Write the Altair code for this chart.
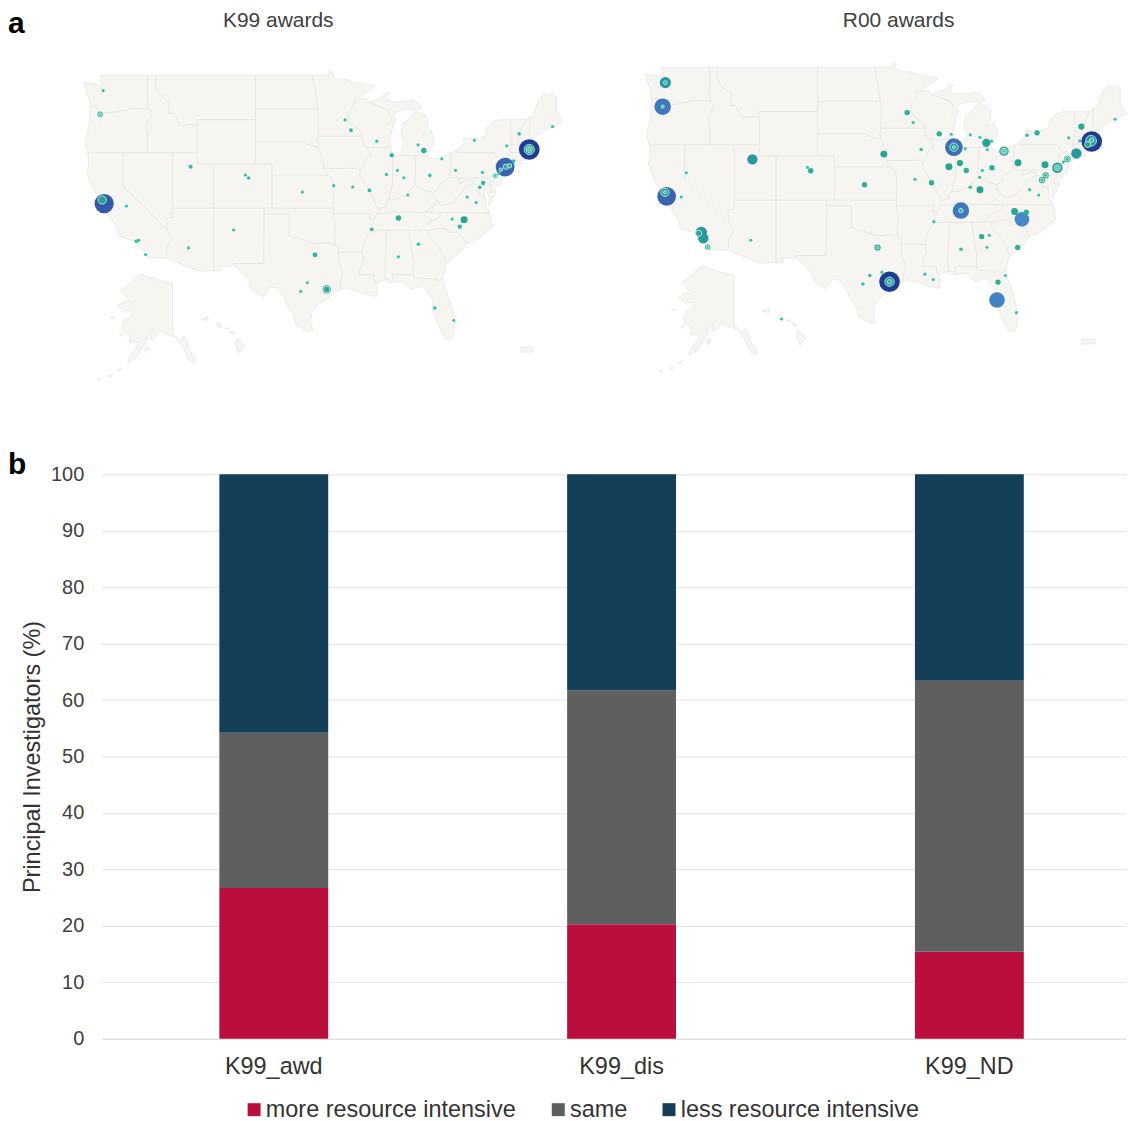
import altair as alt
import pandas as pd

FONT = "Liberation Sans"
# ---------- bars ----------
GROUPS = ["K99_awd", "K99_dis", "K99_ND"]
EFFORT = ["more resource intensive", "same", "less resource intensive"]
MORE = [26.7, 20.3, 15.4]
SAME = [27.5, 41.4, 48.0]
LESS = [45.8, 38.3, 36.6]
BAR_COLORS = ["#BA0F3C", "#5F5F5F", "#143F59"]

# ---------- geography (lon, lat) ----------
US_OUTLINE = [(-124.7,48.38),(-123.1,48.15),(-122.75,48.15),(-122.6,47.3),(-122.35,47.6),(-122.5,48.3),(-122.75,49.0),(-95.15,49.0),(-95.15,49.38),(-94.8,49.33),(-94.6,48.72),(-93.0,48.6),(-92.0,48.3),(-90.8,48.2),(-89.6,48.0),(-92.1,46.75),(-90.8,46.95),(-90.4,46.55),(-89.0,46.95),(-88.4,47.37),(-87.8,47.47),(-88.4,46.85),(-87.4,46.55),(-85.0,46.75),(-84.4,46.5),(-84.0,46.0),(-84.75,45.87),(-86.0,45.95),(-86.7,45.75),(-87.05,45.75),(-87.6,45.1),(-88.0,44.55),(-87.1,45.25),(-87.5,44.4),(-87.9,43.0),(-87.6,41.85),(-87.3,41.62),(-86.9,41.72),(-86.5,42.1),(-86.2,42.8),(-86.35,43.25),(-86.5,44.0),(-86.25,44.7),(-85.6,45.0),(-85.0,45.6),(-84.75,45.78),(-83.5,45.35),(-83.3,45.0),(-83.3,44.3),(-83.9,43.65),(-82.95,44.07),(-82.45,43.0),(-83.1,42.25),(-83.45,41.72),(-82.7,41.45),(-81.7,41.5),(-80.1,42.15),(-78.9,42.85),(-79.05,43.27),(-77.6,43.27),(-76.5,43.47),(-76.2,43.9),(-76.3,44.2),(-75.3,44.85),(-74.7,45.0),(-71.5,45.0),(-71.1,45.3),(-70.85,45.25),(-70.4,45.75),(-70.25,46.2),(-70.0,46.7),(-69.25,47.45),(-68.9,47.2),(-68.3,47.35),(-67.8,47.07),(-67.8,45.7),(-67.45,45.3),(-67.0,44.85),(-68.2,44.35),(-69.0,44.1),(-70.2,43.6),(-70.7,43.05),(-70.8,42.85),(-70.6,42.65),(-71.0,42.3),(-70.65,41.95),(-70.5,41.78),(-70.0,41.8),(-70.2,42.07),(-69.95,41.7),(-70.6,41.55),(-71.2,41.48),(-71.4,41.45),(-71.85,41.32),(-72.9,41.25),(-73.65,40.98),(-74.0,40.7),(-74.0,40.45),(-74.1,39.75),(-74.4,39.4),(-74.9,38.93),(-75.2,39.25),(-75.55,39.6),(-75.4,39.1),(-75.1,38.6),(-75.05,38.45),(-75.4,37.9),(-75.95,37.15),(-75.9,37.95),(-76.2,38.6),(-76.0,39.4),(-76.45,39.2),(-76.5,38.5),(-76.35,38.0),(-76.3,37.5),(-76.3,37.0),(-76.0,36.9),(-75.75,36.2),(-75.5,35.25),(-76.5,34.65),(-77.9,33.9),(-78.55,33.85),(-79.2,33.2),(-79.9,32.7),(-81.1,32.0),(-81.4,31.0),(-81.45,30.7),(-81.3,29.9),(-80.55,28.4),(-80.05,26.8),(-80.15,25.75),(-80.4,25.2),(-81.1,25.15),(-81.75,25.95),(-82.15,26.7),(-82.75,27.8),(-82.65,28.7),(-83.4,29.5),(-84.0,30.1),(-85.0,29.65),(-85.35,29.7),(-86.2,30.4),(-87.5,30.3),(-88.0,30.25),(-88.1,30.6),(-88.9,30.4),(-89.6,30.2),(-89.4,29.8),(-89.4,29.05),(-90.2,29.1),(-91.3,29.4),(-92.1,29.6),(-93.3,29.77),(-94.7,29.35),(-95.3,28.9),(-96.4,28.35),(-97.2,27.6),(-97.4,26.8),(-97.15,25.96),(-97.6,25.9),(-99.1,26.4),(-99.5,27.5),(-100.3,28.3),(-100.7,29.1),(-101.4,29.77),(-102.3,29.88),(-102.8,29.3),(-103.15,28.98),(-104.5,29.65),(-104.9,30.6),(-106.5,31.75),(-108.2,31.78),(-108.2,31.33),(-111.07,31.33),(-114.8,32.5),(-117.12,32.53),(-117.3,33.0),(-118.4,33.75),(-118.5,34.03),(-119.2,34.15),(-120.5,34.45),(-120.65,35.15),(-121.9,36.6),(-122.0,36.95),(-122.5,37.5),(-122.5,37.8),(-123.0,38.0),(-123.75,39.0),(-124.35,40.3),(-124.1,41.0),(-124.2,42.0),(-124.55,42.85),(-124.05,44.7),(-123.95,46.2),(-124.1,46.9),(-124.7,48.38)]
LONG_ISLAND = [(-74.03,40.6),(-73.7,40.9),(-72.6,40.98),(-72.3,41.15),(-71.9,41.07),(-72.5,40.82),(-73.6,40.58),(-74.03,40.6)]
ALASKA = [(-141,69.65),(-141,60.3),(-139.5,59.9),(-137.5,59.0),(-135.5,59.8),(-134,58.9),(-133,57.5),(-131.5,56.5),(-130,56),(-130,55),(-131.5,55),(-133,55.5),(-134.5,56.5),(-136,58),(-137.5,58.5),(-139.5,59.6),(-142,60),(-144.5,60.2),(-146.5,60.9),(-148.5,60),(-150,59.4),(-151.8,59.2),(-151.5,60.7),(-150,61.2),(-152,60.8),(-153.5,59.5),(-154.5,58.5),(-156.5,57.2),(-158.5,56),(-161,55.2),(-163,54.8),(-162,56),(-159,57.5),(-157.5,58.7),(-160,58.8),(-162,58.6),(-162,60),(-165,60.7),(-166,61.6),(-164.5,63),(-161,63.6),(-161,64.7),(-165,64.5),(-168,65.6),(-164,66.5),(-162,66.2),(-163.5,67),(-166.5,68.3),(-163,69.3),(-160,70.4),(-156.6,71.35),(-152,70.8),(-147,70.2),(-141,69.65)]
ISLANDS = [
    [(-154.7,57.4),(-153,58.0),(-152.2,57.6),(-153.9,56.8),(-154.7,57.4)],
    [(-167,60.3),(-165.6,60.4),(-165.8,59.8),(-167,60.3)],
    [(-171.5,63.4),(-169,63.4),(-170,63.0),(-171.5,63.4)],
    [(-168.5,53.3),(-166.2,54.0),(-166.5,53.5),(-168.5,53.3)],
    [(-172.5,52.4),(-170.5,52.9),(-171,52.3),(-172.5,52.4)],
    [(-178,51.9),(-176,52.1),(-176.5,51.6),(-178,51.9)],
    [(-160.2,22.0),(-159.3,22.25),(-159.35,21.9),(-160.2,22.0)],
    [(-158.3,21.55),(-157.95,21.7),(-157.65,21.3),(-158.1,21.3),(-158.3,21.55)],
    [(-157.3,21.2),(-156.75,21.18),(-156.9,21.05),(-157.3,21.2)],
    [(-156.7,20.9),(-156.3,20.95),(-156.0,20.75),(-156.4,20.6),(-156.7,20.9)],
    [(-156.05,19.75),(-155.85,20.25),(-155.1,19.85),(-154.85,19.5),(-155.65,18.95),(-156.05,19.75)],
    [(-67.25,18.4),(-65.65,18.38),(-65.75,18.0),(-67.2,17.97),(-67.25,18.4)],
]
BORDERS = [
    [(-124.0,46.25),(-123.2,46.15),(-122.8,45.65),(-121.2,45.65),(-119.3,45.93),(-119.0,46.0),(-116.92,46.0)],
    [(-117.03,49),(-117.04,46.42),(-116.92,46.0),(-116.5,45.5),(-116.85,44.9),(-117.2,44.4),(-117.03,43.8),(-117.03,42)],
    [(-116.05,49.0),(-116.05,48.0),(-115.7,47.45),(-114.7,46.7),(-114.35,46.65),(-114.5,45.55),(-113.9,45.6),(-113.45,44.95),(-113.0,44.45),(-112.0,44.55),(-111.05,44.5)],
    [(-111.05,45),(-104.05,45)],[(-111.05,45),(-111.05,41),(-109.05,41),(-104.05,41)],
    [(-124.2,42),(-111.05,42)],[(-120,42),(-120,39),(-114.63,35.0),(-114.75,36.1),(-114.05,36.2),(-114.05,42)],
    [(-114.63,35.0),(-114.15,34.27),(-114.72,33.4),(-114.72,32.72)],
    [(-114.05,37),(-94.62,37)],[(-109.05,41),(-109.05,31.33)],
    [(-104.05,49),(-104.05,41),(-102.05,41),(-102.05,37)],[(-102.05,40),(-95.3,40)],
    [(-103.0,37),(-103.05,32),(-106.6,32),(-106.5,31.75)],
    [(-103,36.5),(-100,36.5),(-100,34.56),(-99.2,34.3),(-98.1,34.1),(-97.2,33.85),(-96.5,33.8),(-95.2,33.9),(-94.48,33.64)],
    [(-94.62,37),(-94.62,36.5),(-94.43,35.4),(-94.48,33.64),(-94.04,33.55),(-94.04,32),(-93.55,31.2),(-93.75,30.3),(-93.85,29.7)],
    [(-104.05,45.94),(-96.56,45.94)],[(-104.05,43),(-98.5,43),(-97.9,42.8),(-96.45,42.5)],
    [(-97.23,49),(-96.85,47.6),(-96.56,45.94),(-96.45,45.3),(-96.45,43.5),(-96.6,43.0),(-96.45,42.5),(-96.1,41.7),(-95.85,41.0),(-95.8,40.58),(-95.3,40.0),(-94.9,39.8),(-94.6,39.1),(-94.62,37)],
    [(-96.45,43.5),(-91.22,43.5)],[(-95.77,40.58),(-91.73,40.6),(-91.42,40.38)],
    [(-94.62,36.5),(-90.15,36.5),(-90.37,36.0),(-89.7,36.0)],
    [(-92.1,46.75),(-92.3,46.1),(-92.9,45.6),(-92.75,44.75),(-91.25,43.85),(-91.22,43.5),(-91.1,42.7),(-90.64,42.5),(-90.15,41.8),(-91.05,41.2),(-91.1,40.7),(-91.42,40.38),(-91.5,40.0),(-90.7,39.0),(-90.2,38.7),(-90.2,38.3),(-89.5,37.3),(-89.15,36.98),(-89.4,36.5),(-89.7,36.0),(-90.1,35.1),(-90.6,34.5),(-91.1,33.6),(-91.17,33.0),(-91.0,32.4),(-91.6,31.0),(-89.73,31.0),(-89.85,30.65),(-89.55,30.2)],
    [(-94.04,33.02),(-91.17,33.0)],[(-90.64,42.5),(-87.8,42.5)],[(-90.4,46.55),(-88.1,45.9),(-87.8,45.35),(-87.6,45.1)],
    [(-87.53,41.7),(-87.53,39.3),(-87.9,38.0),(-88.05,37.8)],
    [(-89.15,36.98),(-88.5,37.1),(-88.05,37.8),(-87.1,37.8),(-86.3,38.1),(-85.7,38.3),(-85.4,38.7),(-84.82,39.1),(-84.2,38.8),(-83.65,38.63),(-82.6,38.4),(-82.2,38.6),(-81.75,39.2),(-80.85,39.7),(-80.52,40.64)],
    [(-84.82,39.1),(-84.8,41.75)],[(-86.8,41.76),(-84.8,41.75),(-83.45,41.72)],[(-80.52,40.64),(-80.52,41.98)],
    [(-79.76,42.27),(-79.76,42),(-75.35,42),(-74.7,41.36),(-73.9,41.0)],[(-80.52,40.64),(-80.52,39.72),(-75.79,39.72),(-75.7,38.46),(-75.05,38.45)],
    [(-74.7,41.36),(-75.13,40.98),(-75.2,40.65),(-74.75,40.2),(-75.4,39.8)],[(-75.79,39.72),(-75.55,39.83),(-75.42,39.8)],
    [(-73.65,41.0),(-73.5,41.3),(-73.5,42.05),(-73.27,42.75),(-73.25,43.55),(-73.35,45.0)],
    [(-73.5,42.05),(-71.8,42.02),(-71.38,42.02),(-71.13,41.5)],[(-71.8,42.02),(-71.85,41.32)],[(-73.27,42.75),(-71.3,42.7),(-70.82,42.87)],
    [(-72.45,42.73),(-72.3,43.7),(-72.05,44.1),(-71.5,45.0)],[(-70.7,43.07),(-71.0,43.6),(-71.08,45.3)],
    [(-79.48,39.72),(-79.48,39.2),(-78.4,39.6),(-77.75,39.3),(-77.05,38.85),(-77.25,38.35),(-76.35,38.0)],
    [(-77.75,39.3),(-78.85,38.8),(-80.3,37.5),(-81.7,37.2),(-81.95,37.55)],[(-82.6,38.4),(-82.6,37.9),(-81.95,37.55),(-83.68,36.6)],
    [(-89.4,36.5),(-88.05,36.5),(-88.05,36.65),(-83.68,36.6),(-81.68,36.59),(-75.9,36.55)],
    [(-81.68,36.59),(-82.0,36.1),(-83.1,35.75),(-84.3,35.0)],[(-90.3,35.0),(-83.1,35.0),(-82.3,35.2),(-81.05,35.15),(-80.8,34.82),(-79.67,34.8),(-78.55,33.85)],
    [(-83.1,35.0),(-83.35,34.7),(-81.9,33.4),(-81.4,32.6),(-81.1,32.0)],
    [(-85.6,34.98),(-85.18,32.87),(-85.0,32.3),(-85.0,31.0)],[(-87.45,30.4),(-87.6,31.0),(-85.0,31.0),(-84.86,30.7),(-82.2,30.57),(-82.05,30.36),(-81.45,30.7)],
    [(-88.2,35.0),(-88.47,31.9),(-88.4,30.3)],
]

# ---------- awards per site: lon, lat, awards ----------
K99_SITES = [(-122.25,37.41,38),(-71.08,42.30,44),(-73.98,40.71,36),(-95.46,29.66,7),(-122.73,45.48,3),(-78.92,35.96,5),
    (-122.37,47.62,1),(-119.56,37.20,1),(-118.43,34.01,1),(-118.07,34.10,1),(-118.27,34.04,1),(-117.27,32.81,1),(-111.85,40.74,1.8),(-112.09,33.41,1),(-106.67,35.03,1),(-105.26,39.99,1),(-104.86,39.72,1.3),(-98.39,38.46,1),(-96.87,32.78,2.5),(-97.79,30.26,1),(-98.59,29.48,1),(-94.62,39.03,1),(-92.33,38.91,1),(-90.32,38.61,1.5),(-93.25,44.97,1),(-92.53,44.04,1.5),(-89.44,43.05,1),(-87.63,41.79,2),(-88.27,40.05,1),(-86.95,40.41,1),(-86.18,39.75,1),(-84.46,42.72,1),(-83.77,42.21,3),(-83.05,39.96,1.3),(-81.61,41.46,1),(-79.96,40.41,1),(-85.70,38.19,1),(-86.83,36.11,3),(-90.04,35.09,1.5),(-79.44,35.33,2),(-80.36,36.02,1),(-84.42,33.74,1.3),(-86.83,32.60,1),(-82.45,27.98,1.3),(-80.16,26.86,1),(-78.55,38.0,1),(-77.47,37.5,1),(-77.03,38.88,1.3),(-76.63,39.27,2),(-76.71,40.23,1),(-77.67,43.14,1),(-73.78,42.63,1),(-72.29,43.71,1.3),(-68.27,44.37,1),(-74.74,40.14,1),(-72.97,41.25,1.5)]
K99_NESTED = [(-122.49,37.74,7),(-71.08,42.30,11),(-71.08,42.30,4),(-71.08,42.30,1),(-95.46,29.66,4),(-122.73,45.48,1),(-73.90,40.74,3),(-73.45,40.83,2),(-74.5,40.47,1.3),(-75.18,39.93,3),(-75.18,39.93,1)]
R00_SITES = [(-122.30,47.62,13),(-122.62,45.45,28),(-122.14,37.35,36),(-119.79,39.48,1),(-120.39,37.29,1),(-117.99,34.10,13),(-117.75,33.56,11),(-117.23,32.78,3),(-111.87,40.68,11),(-112.07,33.38,1),(-105.27,39.96,1),(-104.88,39.66,3),(-98.44,38.40,3),(-96.12,41.16,5),(-96.88,32.72,4),(-97.80,30.20,1.3),(-96.36,30.50,1),(-98.64,29.42,1.3),(-95.44,29.63,44),(-93.33,44.91,3),(-92.61,44.01,1),(-91.65,41.58,1.3),(-92.40,38.88,1),(-90.41,38.58,3),(-89.49,42.99,3),(-88.05,42.96,1),(-87.73,41.79,32),(-86.37,41.64,1),(-88.33,40.02,5),(-87.01,40.35,4),(-86.25,39.69,3),(-85.77,42.90,1),(-84.61,42.69,1),(-83.85,42.18,7),(-83.21,42.33,1),(-83.73,41.55,1),(-81.73,41.43,9),(-84.33,39.69,1),(-84.65,39.06,1),(-83.17,39.93,3),(-85.77,38.16,1.3),(-84.61,37.95,5),(-86.89,36.06,28),(-90.13,35.06,1),(-80.46,35.97,5),(-79.06,35.91,3),(-79.58,35.27,22),(-84.41,33.71,3),(-83.49,33.83,1),(-83.77,32.75,1),(-86.89,32.57,1.3),(-80.09,32.72,3),(-81.58,30.2,1),(-82.45,29.60,3),(-82.57,27.98,25),(-80.25,26.84,1),(-91.21,30.32,1),(-90.21,29.84,1),(-157.85,21.3,1),(-80.05,40.38,5),(-78.97,42.87,1.3),(-77.77,43.08,3),(-76.82,40.20,5),(-78.66,37.95,1),(-77.58,37.47,1),(-76.74,39.24,4),(-77.18,38.82,4),(-75.34,39.93,11),(-74.14,40.71,4),(-74.62,40.44,1),(-73.06,41.22,11),(-72.46,43.65,4),(-73.98,42.63,1),(-72.66,42.36,1),(-68.42,44.31,1),(-71.22,42.30,44)]
R00_NESTED = [(-122.30,47.62,1.5),(-122.62,45.45,1),(-122.34,37.71,7),(-122.34,37.71,1),(-118.31,34.01,4),(-117.23,32.78,1),(-96.88,32.72,1),(-95.44,29.63,9),(-95.44,29.63,2),(-87.73,41.79,7),(-87.73,41.79,1),(-81.73,41.43,4),(-81.73,41.43,1),(-86.89,36.06,2),(-76.74,39.24,1.5),(-77.18,38.82,1.5),(-75.34,39.93,4),(-75.34,39.93,1),(-74.14,40.71,1.5),(-71.30,42.36,12),(-71.70,42.03,4),(-71.22,42.42,2)]

AWARD_STOPS = [1, 4, 12, 22, 36, 44]
AWARD_COLORS = ["#2CC6AA", "#2AA78F", "#2D97A0", "#4589C9", "#3A64AD", "#1F3C90"]
LAND = "#F6F5F2"
EDGE = "#E8E7E3"

def locate(lon, lat, x0, y0, kx):
    """Equirectangular map position, with the usual insets for AK, HI and PR."""
    if lon < -154 and lat < 30:      # Hawaii
        return (x0 + 123 + 8.3 * (lon + 159.5), y0 + 244 + 11.1 * (22.05 - lat))
    if lat > 51 and lon < -129:      # Alaska
        return (x0 + 89 + 2.05 * (lon + 141), y0 + 209 + 5.4 * (69.6 - lat))
    if lat < 19:                     # Puerto Rico
        return (x0 + 438 + 8.3 * (lon + 67.25), y0 + 275 + 11.1 * (18.2 - lat))
    return (x0 + kx * (lon + 124.7), y0 + 11.1 * (49 - lat))

def feature(kind, rings, *a):
    pts = [[list(locate(lo, la, *a)) for lo, la in r] for r in rings]
    coords = pts if kind == "Polygon" else pts[0]
    return {"type": "Feature", "properties": {}, "geometry": {"type": kind, "coordinates": coords}}

def sites(rows, *a):
    rows = sorted(rows, key=lambda r: -r[2])
    return pd.DataFrame([dict(zip(("mx", "my"), locate(r[0], r[1], *a)), awards=r[2]) for r in rows])

SIZE = alt.Size("awards:Q", legend=None, scale=alt.Scale(type="linear", domain=[0, 44], range=[0, 430]))
COLOR = alt.Color("awards:Q", legend=None, scale=alt.Scale(domain=AWARD_STOPS, range=AWARD_COLORS))
PROJ = alt.Projection(type="identity", scale=1, translate=[0, 0])

def label(text, x, y, size, color, weight="normal", align="center"):
    return alt.Chart(pd.DataFrame({"t": [text]})).mark_text(
        font=FONT, fontSize=size, fontWeight=weight, color=color, align=align, baseline="middle"
    ).encode(text="t:N", x=alt.value(x), y=alt.value(y))

def map_layers(main, nested, x0, y0, kx):
    a = (x0, y0, kx)
    polys = [feature("Polygon", [r], *a) for r in [US_OUTLINE, LONG_ISLAND, ALASKA] + ISLANDS]
    lines = [feature("LineString", [r], *a) for r in BORDERS]
    land = alt.Chart(alt.Data(values=polys)).mark_geoshape(fill=LAND, stroke=EDGE, strokeWidth=0.8, clip=False)
    border = alt.Chart(alt.Data(values=lines)).mark_geoshape(filled=False, stroke=EDGE, strokeWidth=1, clip=False)
    big = alt.Chart(sites(main, *a)).mark_circle(opacity=1, clip=False).encode(longitude="mx:Q", latitude="my:Q", size=SIZE, color=COLOR)
    small = alt.Chart(sites(nested, *a)).mark_circle(opacity=1, stroke="#D5F1EA", strokeWidth=0.8, clip=False).encode(longitude="mx:Q", latitude="my:Q", size=SIZE, color=COLOR)
    return [land, border, big, small]

maps = alt.layer(
    *map_layers(K99_SITES, K99_NESTED, -18, 66, 8.33),
    *map_layers(R00_SITES, R00_NESTED, 545, 58, 8.37),
    label("K99 awards", 177, 12, 21, "#404040"),
    label("R00 awards", 799, 12, 21, "#404040"),
    label("a", -94, 15, 30, "#000000", "bold", "left"),
    projection=PROJ,
).properties(width=1027, height=385)

rows = []
for i, g in enumerate(GROUPS):
    for k, (name, series) in enumerate(zip(EFFORT, (MORE, SAME, LESS))):
        rows.append({"group": g, "effort": name, "share": series[i], "rank": k})
bar_df = pd.DataFrame(rows)

bars = alt.Chart(bar_df).mark_bar().encode(
    x=alt.X("group:N", sort=GROUPS, title=None,
            scale=alt.Scale(paddingInner=0.687, paddingOuter=0.316, align=0.535),
            axis=alt.Axis(labelAngle=0, labelFont=FONT, labelFontSize=23.5, labelColor="#333333", labelPadding=16,
                          ticks=False, domainColor="#DDDDDD", grid=False)),
    y=alt.Y("share:Q", stack="zero", title="Principal Investigators (%)",
            scale=alt.Scale(domain=[0, 100]),
            axis=alt.Axis(values=list(range(0, 101, 10)), labelFont=FONT, labelFontSize=20, labelColor="#404040", labelPadding=18,
                          ticks=False, domain=False, gridColor="#E3E3E3", titleFont=FONT, titleFontSize=23.5,
                          titleFontWeight="normal", titleColor="#333333", titlePadding=6)),
    color=alt.Color("effort:N", sort=EFFORT, scale=alt.Scale(domain=EFFORT, range=BAR_COLORS),
                    legend=alt.Legend(title=None, orient="none", legendX=141, legendY=625, direction="horizontal",
                                      columns=3, columnPadding=30, symbolType="square", symbolSize=169, symbolStrokeWidth=0,
                                      symbolOpacity=1, labelFont=FONT, labelFontSize=23.5, labelColor="#333333", labelOffset=0, labelLimit=400)),
    order=alt.Order("rank:Q"),
)
bar_chart = alt.layer(bars, label("b", -94, -9, 30, "#000000", "bold", "left")).properties(width=1027, height=566)

chart = alt.vconcat(maps, bar_chart, spacing=57).properties(padding=0).configure_view(stroke=None)
chart.save("out.html", embed_options={"renderer": "svg", "actions": False})
